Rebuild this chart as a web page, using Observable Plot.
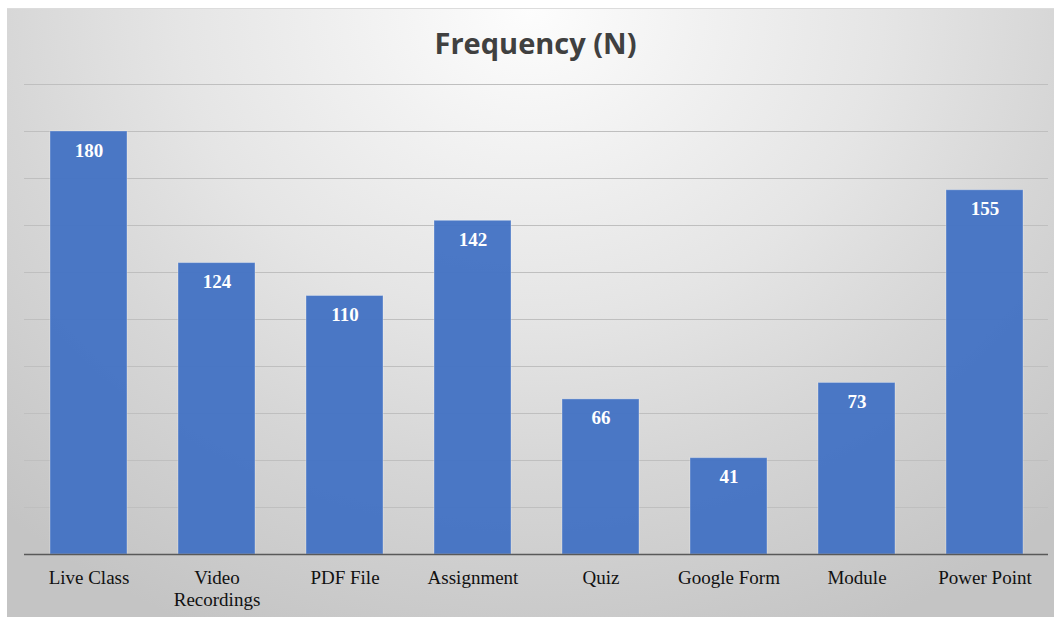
<!DOCTYPE html>
<html>
<head>
<meta charset="utf-8">
<script src="https://cdn.jsdelivr.net/npm/d3@7"></script>
<script src="https://cdn.jsdelivr.net/npm/@observablehq/plot@0.6"></script>
<style>
  html, body { margin: 0; padding: 0; background: #ffffff; }
  #wrap { position: relative; width: 1054px; height: 617px; overflow: hidden; }
  #bg {
    position: absolute; left: 7px; top: 8px; width: 1047px; height: 609px;
    background: radial-gradient(ellipse 75% 112% at 50% 0%, #fdfdfd 0%, #f1f1f1 22%, #e5e5e5 45%, #d6d6d6 68%, #c4c4c4 100%);
    border-top: 1px solid #dcdcdc;
  }
  #title {
    position: absolute; left: 12px; width: 1047px; top: 23px; text-align: center;
    font-family: "Open Sans", Lato, sans-serif; font-weight: 700; font-size: 29px; color: #404040;
  }
  #chart { position: absolute; left: 0; top: 0; }
</style>
</head>
<body>
<div id="wrap">
  <div id="bg"></div>
  <div id="title">Frequency (N)</div>
  <div id="chart"></div>
</div>
<script>
const categories = ["Live Class", "Video\nRecordings", "PDF File", "Assignment", "Quiz", "Google Form", "Module", "Power Point"];
const values = [180, 124, 110, 142, 66, 41, 73, 155];
const gridTicks = [20, 40, 60, 80, 100, 120, 140, 160, 180, 200];

const data = categories.map((c, i) => ({category: c, value: values[i]}));

const chart = Plot.plot({
  width: 1054,
  height: 617,
  marginLeft: 24,
  marginRight: 6,
  marginTop: 84,
  marginBottom: 63,
  style: {background: "transparent", overflow: "visible"},
  x: {domain: categories, paddingInner: 0.4, paddingOuter: 0.2, axis: null},
  y: {domain: [0, 200], axis: null},
  marks: [
    Plot.ruleY(gridTicks, {stroke: "#bfbfbf", strokeWidth: 1.2}),
    Plot.barY(data, {x: "category", y: "value", fill: "#4472C4", fillOpacity: 0.96, stroke: "#ffffff", strokeOpacity: 0.3, strokeWidth: 1}),
    Plot.ruleY([0], {stroke: "#595959", strokeWidth: 1.6}),
    Plot.text(data, {x: "category", y: "value", text: d => String(d.value), dy: 19, fill: "#ffffff",
      fontFamily: "'Liberation Serif', 'Times New Roman', serif", fontWeight: "bold", fontSize: 19}),
    Plot.text(data, {x: "category", y: 0, text: "category", dy: 14, lineAnchor: "top", lineHeight: 1.15, fill: "#111111",
      fontFamily: "'Liberation Serif', 'Times New Roman', serif", fontSize: 19})
  ]
});
document.getElementById("chart").appendChild(chart);
</script>
</body>
</html>
